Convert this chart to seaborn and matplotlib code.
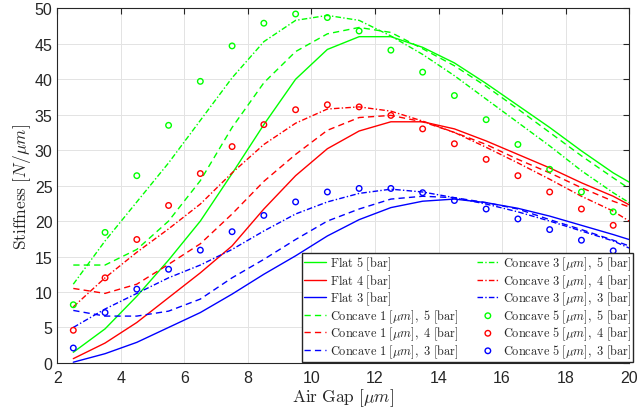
import numpy as np
import pandas as pd
import matplotlib
matplotlib.use("Agg")
import matplotlib.pyplot as plt
import seaborn as sns

# ---------------- data ----------------
x_line = [2.5, 3.5, 4.5, 5.5, 6.5, 7.5, 8.5, 9.5, 10.5, 11.5, 12.5, 13.5, 14.5,
          15.5, 16.5, 17.5, 18.5, 19.5, 20.0]
x_pts = [2.5, 3.5, 4.5, 5.5, 6.5, 7.5, 8.5, 9.5, 10.5, 11.5, 12.5, 13.5, 14.5,
         15.5, 16.5, 17.5, 18.5, 19.5]

flat5 = [1.5, 4.8, 9.4, 14.5, 20.0, 26.7, 33.6, 40.0, 44.2, 46.0, 46.0, 44.5, 42.3,
         39.4, 36.3, 33.2, 29.9, 26.8, 25.5]
flat4 = [0.6, 2.8, 5.7, 9.2, 12.7, 16.5, 21.7, 26.4, 30.2, 32.7, 34.0, 34.0, 33.0,
         31.3, 29.4, 27.5, 25.4, 23.5, 22.3]
flat3 = [0.1, 1.3, 2.9, 5.0, 7.1, 9.7, 12.5, 15.1, 17.9, 20.2, 21.9, 22.8, 23.1,
         22.6, 21.8, 20.7, 19.4, 18.1, 17.4]

conc1_5 = [13.8, 13.8, 16.0, 20.0, 25.7, 33.2, 39.5, 43.9, 46.4, 47.3, 46.6, 44.3, 41.9,
           39.0, 35.8, 32.5, 29.2, 26.1, 24.6]
conc1_4 = [10.5, 9.8, 11.1, 13.9, 16.8, 21.0, 25.6, 29.4, 32.8, 34.6, 34.9, 34.0, 32.5,
           30.8, 28.7, 26.8, 24.7, 22.8, 22.0]
conc1_3 = [7.4, 6.6, 6.6, 7.3, 9.0, 12.0, 14.6, 17.4, 20.0, 21.7, 23.1, 23.5, 23.3,
           22.6, 21.7, 20.2, 18.8, 17.3, 16.5]

conc3_5 = [11.1, 17.2, 22.7, 28.2, 34.2, 40.2, 45.3, 48.3, 49.0, 48.3, 46.1, 43.5, 40.5,
           37.2, 33.9, 30.6, 27.1, 24.0, 22.6]
conc3_4 = [7.9, 12.0, 15.6, 18.9, 22.4, 26.8, 30.8, 33.8, 35.8, 36.1, 35.5, 34.1, 32.5,
           30.4, 28.2, 25.9, 23.5, 21.4, 20.0]
conc3_3 = [5.0, 7.6, 9.8, 12.0, 13.8, 16.0, 18.6, 21.0, 22.7, 23.9, 24.5, 24.1, 23.3,
           22.4, 21.3, 20.0, 18.6, 17.2, 16.2]

conc5_5 = [8.2, 18.4, 26.4, 33.5, 39.7, 44.7, 47.9, 49.2, 48.7, 46.8, 44.1, 41.0, 37.7,
           34.3, 30.8, 27.3, 24.1, 21.3]
conc5_4 = [4.6, 12.0, 17.4, 22.2, 26.7, 30.5, 33.6, 35.7, 36.4, 36.1, 34.9, 33.0, 30.9,
           28.7, 26.4, 24.1, 21.7, 19.4]
conc5_3 = [2.1, 7.1, 10.4, 13.2, 15.9, 18.5, 20.8, 22.7, 24.1, 24.6, 24.6, 24.0, 22.9,
           21.7, 20.3, 18.8, 17.3, 15.8]

x_ticks = [2, 4, 6, 8, 10, 12, 14, 16, 18, 20]
y_ticks = [0, 5, 10, 15, 20, 25, 30, 35, 40, 45, 50]

# ---------------- style ----------------
sns.set_style("white")
plt.rcParams["font.family"] = ["Liberation Sans", "DejaVu Sans"]
plt.rcParams["mathtext.fontset"] = "cm"

GREEN, RED, BLUE = "#00ff00", "#ff0000", "#0000ff"
DASH = (0, (4.5, 3.0))
DASHDOT = (0, (4.0, 1.6, 1.0, 1.6))

fig = plt.figure(figsize=(6.38, 4.14), dpi=100)
ax = fig.add_axes([0.090, 0.121, 0.896, 0.8565])


def lab(txt):
    return r"$\mathrm{" + txt + r"}$"


def conc(n, p):
    return r"$\mathrm{Concave\ " + str(n) + r"\ [}\mu m\mathrm{],\ " + str(p) + r"\ [bar]}$"


lines = [
    (flat5, GREEN, "-", lab(r"Flat\ 5\ [bar]")),
    (flat4, RED, "-", lab(r"Flat\ 4\ [bar]")),
    (flat3, BLUE, "-", lab(r"Flat\ 3\ [bar]")),
    (conc1_5, GREEN, DASH, conc(1, 5)),
    (conc1_4, RED, DASH, conc(1, 4)),
    (conc1_3, BLUE, DASH, conc(1, 3)),
    (conc3_5, GREEN, DASHDOT, conc(3, 5)),
    (conc3_4, RED, DASHDOT, conc(3, 4)),
    (conc3_3, BLUE, DASHDOT, conc(3, 3)),
]

for ys, c, ls, label in lines:
    sns.lineplot(x=x_line, y=ys, ax=ax, color=c, linestyle=ls, linewidth=1.0,
                 label=label, sort=False, zorder=3)

for ys, c, p in [(conc5_5, GREEN, 5), (conc5_4, RED, 4), (conc5_3, BLUE, 3)]:
    sns.scatterplot(x=x_pts, y=ys, ax=ax, marker="o", s=16, fc="none", ec=c,
                    linewidth=1.0, label=conc(5, p), zorder=4)

ax.set_xlim(2, 20)
ax.set_ylim(0, 50)
ax.set_xticks(x_ticks)
ax.set_yticks(y_ticks)
ax.tick_params(axis="both", direction="in", length=4, width=0.8, labelsize=11.5,
               top=True, right=True, colors="#262626")
ax.tick_params(axis="x", pad=5)
ax.tick_params(axis="y", pad=3.5)
ax.grid(True, color="#e3e3e3", linewidth=0.7)
ax.set_axisbelow(True)
for s in ax.spines.values():
    s.set_color("#262626")
    s.set_linewidth(0.8)

ax.set_xlabel(r"$\mathrm{Air\ Gap\ [}\mu m\mathrm{]}$", fontsize=12.5, labelpad=1, color="#262626")
ax.set_ylabel(r"$\mathrm{Stiffness\ [}N/\mu m\mathrm{]}$", fontsize=12.5, labelpad=1, color="#262626")

handles, labels = ax.get_legend_handles_labels()
leg = ax.legend(handles, labels, ncol=2, loc="lower right",
                bbox_to_anchor=(0.992, 0.124), bbox_transform=fig.transFigure,
                fontsize=8.9, frameon=True, fancybox=False, framealpha=1,
                edgecolor="#262626", borderaxespad=0, borderpad=0.15,
                handlelength=1.8, handletextpad=0.3, columnspacing=1.5,
                labelspacing=0.0)
leg.get_frame().set_linewidth(1.0)

fig.savefig("out.png", dpi=100)
